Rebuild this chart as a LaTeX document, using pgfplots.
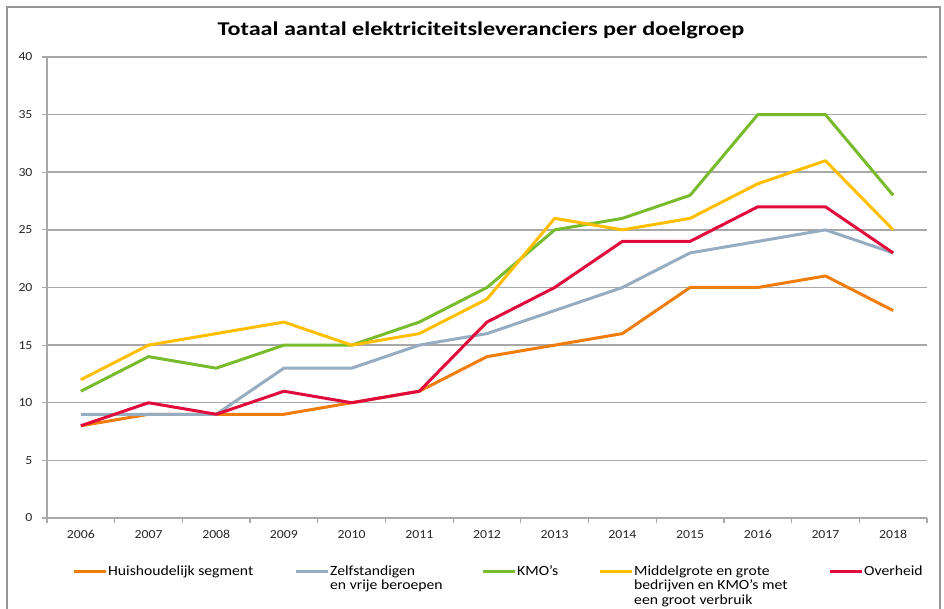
\documentclass[border=0pt]{standalone}
\usepackage{pgfplots}
\pgfplotsset{compat=1.18}
\usepackage{fontspec}
\setmainfont{Carlito}[FakeStretch=1.12]
\newfontfamily\titlefont{Carlito}[FakeStretch=1.24]

\definecolor{huis}{RGB}{240,125,10}
\definecolor{zelf}{RGB}{150,172,192}
\definecolor{kmo}{RGB}{120,187,45}
\definecolor{midd}{RGB}{255,190,0}
\definecolor{over}{RGB}{225,10,60}
\definecolor{gridc}{RGB}{168,168,168}
\definecolor{framec}{RGB}{150,150,150}

\begin{document}
\begin{tikzpicture}[x=1pt,y=1pt]
\useasboundingbox (0,0) rectangle (944,609);
% chart frame
\draw[framec, line width=1.2pt] (7,-10) -- (7,602) -- (940,602) -- (940,-10);
\node[font=\titlefont\fontsize{19.5}{22}\selectfont\bfseries] at (481,579) {Totaal aantal elektriciteitsleveranciers per doelgroep};

\begin{axis}[
    at={(47pt,91pt)}, anchor=south west,
    scale only axis, width=880pt, height=461pt,
    xmin=-0.5, xmax=12.5, ymin=0, ymax=40,
    xtick={0,...,12},
    xticklabels={2006,2007,2008,2009,2010,2011,2012,2013,2014,2015,2016,2017,2018},
    minor xtick={-0.5,0.5,...,12.5},
    ytick={0,5,...,40},
    axis x line*=bottom, axis y line*=left,
    axis line style={gridc, line width=1.5pt},
    ymajorgrids, grid style={gridc, line width=1.5pt},
    tick align=outside, major tick length=5pt, minor tick length=5pt,
    major x tick style={draw=none},
    minor x tick style={gridc, line width=1.2pt},
    y tick style={gridc, line width=1.2pt},
    /pgf/number format/assume math mode=true,
    tick label style={font=\fontsize{12.3}{14}\selectfont, text=black!85},
    yticklabel style={xshift=-6pt},
    xticklabel style={yshift=-4pt},
    legend columns=5,
    legend style={at={(0.0284,-0.0998)}, anchor=north west, draw=none, fill=none,
        inner sep=0pt, font=\fontsize{14}{14.5}\selectfont,
        cells={anchor=base west}, nodes={inner sep=1pt},
        /tikz/every even column/.append style={column sep=0pt}},
    legend image code/.code={\draw[#1, line width=3pt] (0pt,4pt) -- (32pt,4pt);},
    every axis plot/.append style={line width=3pt, line join=round},
]
\addplot[huis] coordinates {(0,8)(1,9)(2,9)(3,9)(4,10)(5,11)(6,14)(7,15)(8,16)(9,20)(10,20)(11,21)(12,18)};
\addlegendentry{\parbox[t]{185pt}{Huishoudelijk segment}}
\addplot[zelf] coordinates {(0,9)(1,9)(2,9)(3,13)(4,13)(5,15)(6,16)(7,18)(8,20)(9,23)(10,24)(11,25)(12,23)};
\addlegendentry{\parbox[t]{150pt}{Zelfstandigen\\en vrije beroepen}}
\addplot[kmo] coordinates {(0,11)(1,14)(2,13)(3,15)(4,15)(5,17)(6,20)(7,25)(8,26)(9,28)(10,35)(11,35)(12,28)};
\addlegendentry{\parbox[t]{80pt}{KMO’s}}
\addplot[midd] coordinates {(0,12)(1,15)(2,16)(3,17)(4,15)(5,16)(6,19)(7,26)(8,25)(9,26)(10,29)(11,31)(12,25)};
\addlegendentry{\parbox[t]{193pt}{Middelgrote en grote\\bedrijven en KMO’s met\\een groot verbruik}}
\addplot[over] coordinates {(0,8)(1,10)(2,9)(3,11)(4,10)(5,11)(6,17)(7,20)(8,24)(9,24)(10,27)(11,27)(12,23)};
\addlegendentry{Overheid}
\end{axis}
\end{tikzpicture}
\end{document}
